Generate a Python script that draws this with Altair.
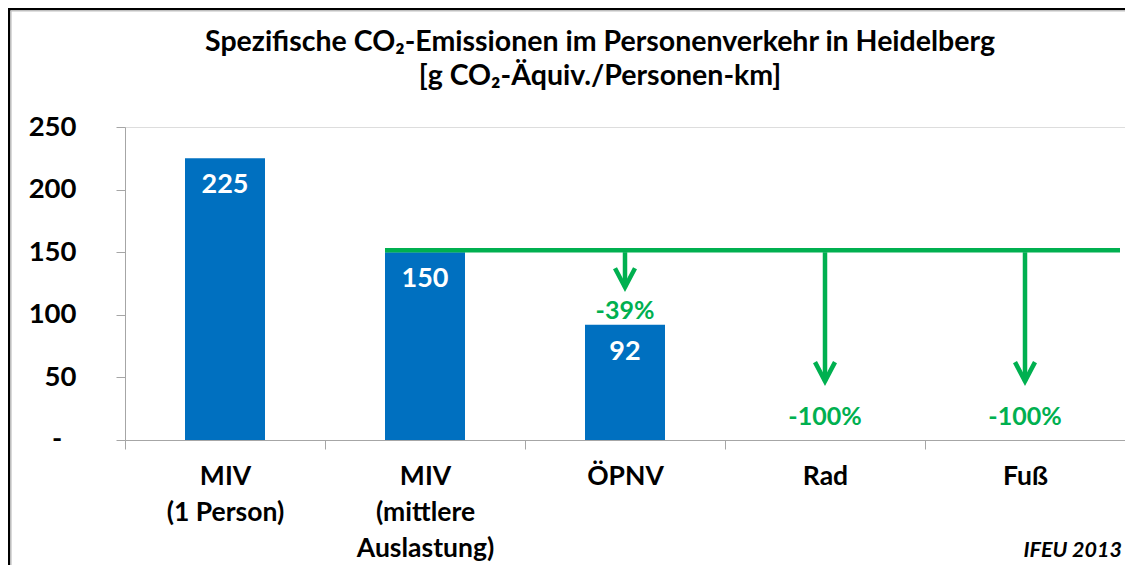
import altair as alt
import pandas as pd

categories = ["MIV|(1 Person)", "MIV|(mittlere|Auslastung)", "ÖPNV", "Rad", "Fuß"]
values = [225, 150, 92, 0, 0]

ref_category = "MIV|(mittlere|Auslastung)"
ref_value = 150

arrow_cats = ["ÖPNV", "Rad", "Fuß"]
arrow_tips = [122, 47, 47]
change_labels = ["-39%", "-100%", "-100%"]
change_label_y = [103, 18.5, 18]

y_ticks = [0, 50, 100, 150, 200, 250]
zero_label = "-"

title_line1 = "Spezifische CO₂-Emissionen im Personenverkehr in Heidelberg"
title_line2 = "[g CO₂-Äquiv./Personen-km]"
source_note = "IFEU 2013"

BLUE = "#0070C0"
GREEN = "#00B050"
GRAY = "#A6A6A6"
FONT = "Lato"

W, H = 1000, 313
PAD = {"left": 117, "top": 119, "right": 0, "bottom": 125}

bars_df = pd.DataFrame({"cat": categories, "value": values})
ref_df = pd.DataFrame({"cat": [ref_category], "value": [ref_value]})
arrow_df = pd.DataFrame({"cat": arrow_cats, "top": [ref_value] * 3, "tip": arrow_tips,
                         "label": change_labels, "ly": change_label_y})
note_df = pd.DataFrame({"t": [source_note]})
title1_df = pd.DataFrame({"t": [title_line1]})
title2_df = pd.DataFrame({"t": [title_line2]})
zero_df = pd.DataFrame({"v": [0], "t": [zero_label]})
border_df = pd.DataFrame({"k": [0]})

xenc = alt.X("cat:N", sort=categories, title=None,
             scale=alt.Scale(paddingInner=0, paddingOuter=0),
             axis=alt.Axis(labelExpr="isValid(datum.value) ? split(datum.value, '|') : ''",
                           labelAngle=0,
                           labelFont=FONT, labelFontSize=26.5, labelFontWeight="bold",
                           labelColor="black", labelLineHeight=36, labelPadding=14,
                           labelBaseline="top",
                           tickBand="extent", tickSize=9, tickColor=GRAY,
                           domainColor=GRAY, grid=False))
yscale = alt.Scale(domain=[0, 250], nice=False)
yaxis = alt.Axis(values=y_ticks,
                 labelExpr="datum.value == 0 ? '' : datum.label",
                 labelFont=FONT, labelFontSize=27.5, labelFontWeight="bold",
                 labelColor="black", labelPadding=40, tickSize=9,
                 tickColor=GRAY, domainColor=GRAY, grid=False)

bars = alt.Chart(bars_df).mark_bar(width={"band": 0.4}, color=BLUE).encode(
    x=xenc,
    y=alt.Y("value:Q", scale=yscale, axis=yaxis, title=None),
)

zero_text = alt.Chart(zero_df).mark_text(
    align="center", baseline="middle", font=FONT, fontSize=27.5,
    fontWeight="bold", color="black"
).encode(x=alt.value(-68), y=alt.Y("v:Q", scale=yscale), text="t:N")

bar_labels = alt.Chart(bars_df).transform_filter("datum.value > 0").mark_text(
    dy=27, baseline="middle", color="white", font=FONT, fontSize=27, fontWeight="bold"
).encode(
    x=alt.X("cat:N", sort=categories),
    y=alt.Y("value:Q", scale=yscale),
    text=alt.Text("value:Q"),
)

ref_line = alt.Chart(ref_df).mark_rule(color=GREEN, strokeWidth=4.5, yOffset=-2).encode(
    x=alt.X("cat:N", sort=categories, bandPosition=0.3),
    x2=alt.value(995),
    y=alt.Y("value:Q", scale=yscale),
)

shafts = alt.Chart(arrow_df).mark_rule(color=GREEN, strokeWidth=4.5).encode(
    x=alt.X("cat:N", sort=categories),
    y=alt.Y("top:Q", scale=yscale),
    y2="tip:Q",
)

heads = alt.Chart(arrow_df).mark_point(
    shape="M-1,-1.9L0,0L1,-1.9", filled=False, size=400,
    strokeWidth=4.5, color=GREEN, opacity=1
).encode(
    x=alt.X("cat:N", sort=categories),
    y=alt.Y("tip:Q", scale=yscale),
)

change_text = alt.Chart(arrow_df).mark_text(
    baseline="middle", color=GREEN, font=FONT, fontSize=25, fontWeight="bold"
).encode(
    x=alt.X("cat:N", sort=categories),
    y=alt.Y("ly:Q", scale=yscale),
    text="label:N",
)

title_style = dict(align="center", baseline="middle", font=FONT, fontSize=28.5,
                   fontWeight="bold", color="black")
title1 = alt.Chart(title1_df).mark_text(**title_style).encode(
    x=alt.value(475), y=alt.value(-85), text="t:N")
title2 = alt.Chart(title2_df).mark_text(**title_style).encode(
    x=alt.value(475), y=alt.value(-51), text="t:N")

note = alt.Chart(note_df).mark_text(
    align="right", baseline="middle", font=FONT, fontSize=21.5,
    fontWeight="bold", fontStyle="italic", color="black"
).encode(x=alt.value(997), y=alt.value(424), text="t:N")

border_left = alt.Chart(border_df).mark_rule(color="black", strokeWidth=2.5).encode(
    x=alt.value(-116), y=alt.value(-119), y2=alt.value(H + PAD["bottom"]))
border_left2 = alt.Chart(border_df).mark_rule(color="#BFBFBF", strokeWidth=1.2).encode(
    x=alt.value(-114), y=alt.value(-116), y2=alt.value(H + PAD["bottom"]))
border_top = alt.Chart(border_df).mark_rule(color="black", strokeWidth=2.5).encode(
    x=alt.value(-117), x2=alt.value(W), y=alt.value(-118))
border_top2 = alt.Chart(border_df).mark_rule(color="#BFBFBF", strokeWidth=1.2).encode(
    x=alt.value(-114), x2=alt.value(W), y=alt.value(-116))

chart = alt.layer(
    bars, zero_text, bar_labels, ref_line, shafts, heads, change_text, title1, title2,
    note, border_left, border_left2, border_top, border_top2
).properties(
    width=W, height=H,
    autosize=alt.AutoSizeParams(type="none"),
    padding=PAD,
).configure_view(stroke=None).configure(background="white")

chart.save("out.html", embed_options={"renderer": "svg", "actions": False})
